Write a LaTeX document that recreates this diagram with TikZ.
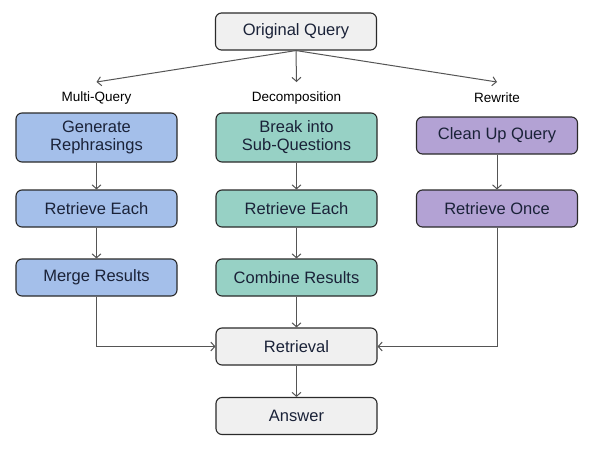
\documentclass[tikz,border=0pt]{standalone}
\usepackage{fontspec}
\setmainfont{Liberation Sans}
\usetikzlibrary{arrows.meta}
\definecolor{bluef}{HTML}{A4BFEA}
\definecolor{greenf}{HTML}{97D1C5}
\definecolor{purplef}{HTML}{B3A2D4}
\definecolor{grayf}{HTML}{F0F0F0}
\definecolor{edge}{HTML}{2A2A2A}
\definecolor{conn}{HTML}{555555}
\definecolor{txt}{HTML}{1A2238}
\begin{document}
\begin{tikzpicture}[x=1pt,y=-1pt,
  box/.style={draw=edge,line width=1.1pt,rounded corners=6pt,minimum width=161pt,minimum height=37pt,inner sep=2pt,align=center,font=\fontsize{16.5}{18}\selectfont,text=txt},
  tallbox/.style={box,minimum height=49pt},
  lbl/.style={font=\fontsize{13.5}{15}\selectfont,text=black},
  arr/.style={draw=conn,line width=1pt,-{Straight Barb[length=4pt,width=9pt]}}]
\useasboundingbox (0,0) rectangle (592,448);
\fill[white] (0,0) rectangle (592,448);
\node[box,fill=grayf] (orig) at (296,31.5) {Original Query};
\node[lbl] (lmq) at (96.5,98) {Multi-Query};
\node[lbl] (ldec) at (296.5,98) {Decomposition};
\node[lbl] (lrw) at (497,98) {Rewrite};
\coordinate (tmq) at (96.5,82);
\coordinate (tdec) at (296.5,82);
\coordinate (trw) at (497,82);
\node[tallbox,fill=bluef] (gen) at (96.5,137.5) {Generate\\Rephrasings};
\node[tallbox,fill=greenf] (brk) at (296.5,137.5) {Break into\\Sub-Questions};
\node[box,fill=purplef] (cln) at (497,135.5) {Clean Up Query};
\node[box,fill=bluef] (re1) at (96.5,208.5) {Retrieve Each};
\node[box,fill=greenf] (re2) at (296.5,208.5) {Retrieve Each};
\node[box,fill=purplef] (ro) at (497,208.5) {Retrieve Once};
\node[box,fill=bluef] (mr) at (96.5,277.5) {Merge Results};
\node[box,fill=greenf] (cr) at (296.5,277.5) {Combine Results};
\node[box,fill=grayf] (ret) at (296.5,346.5) {Retrieval};
\node[box,fill=grayf] (ans) at (296.5,416) {Answer};
\draw[arr] (orig.south) -- (tmq);
\draw[arr] (orig.south) -- (tdec);
\draw[arr] (orig.south) -- (trw);
\draw[arr] (gen) -- (re1);
\draw[arr] (re1) -- (mr);
\draw[arr] (brk) -- (re2);
\draw[arr] (re2) -- (cr);
\draw[arr] (cln) -- (ro);
\draw[arr] (cr) -- (ret);
\draw[arr] (mr.south) |- (ret.west);
\draw[arr] (ro.south) |- (ret.east);
\draw[arr] (ret) -- (ans);
\end{tikzpicture}
\end{document}
